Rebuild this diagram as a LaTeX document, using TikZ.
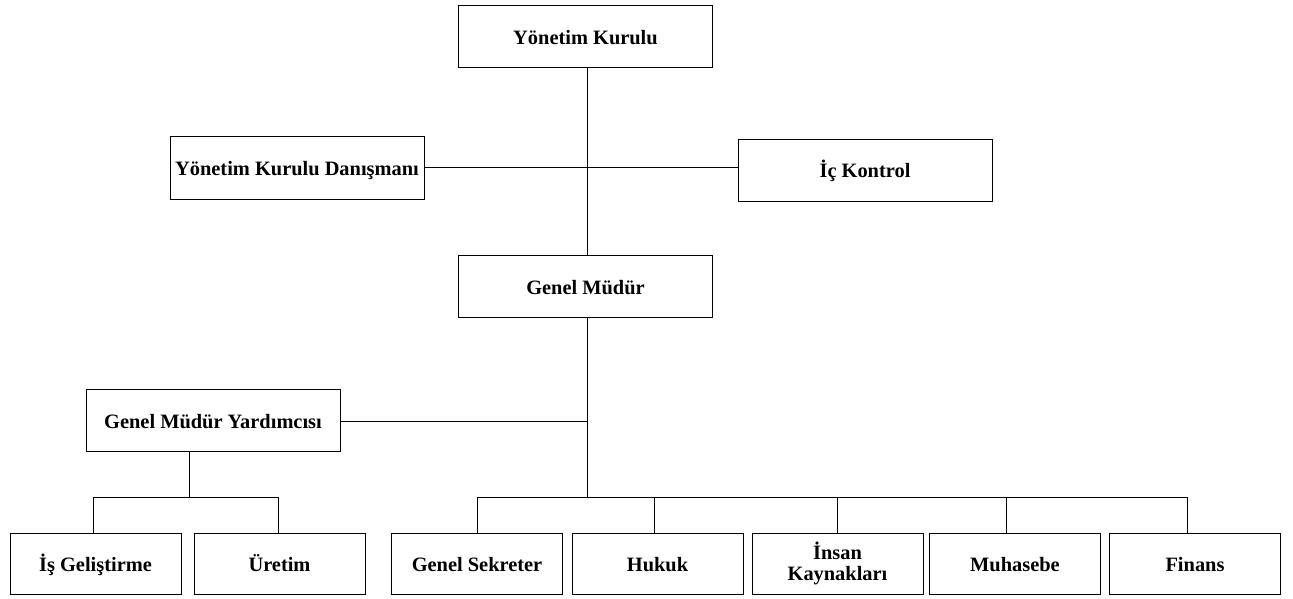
\documentclass[tikz,border=0pt]{standalone}
\usepackage{fontspec}
\setmainfont{Liberation Serif}
\usetikzlibrary{calc}
\begin{document}
\begin{tikzpicture}[x=1pt,y=-1pt,
  box/.style={draw=black,line width=1pt,inner sep=0pt,
    font=\fontsize{20.4}{22}\selectfont\bfseries,text height=16pt,text depth=1pt},
  wide/.style={box,minimum width=254pt,minimum height=62pt},
  small/.style={box,minimum width=171pt,minimum height=61pt},
  twoline/.style={small,align=center,text height=,text depth=},
  link/.style={draw=black,line width=0.9pt}]
\useasboundingbox[fill=white] (0,0) rectangle (1293,599);
% top
\node[wide] (yk)  at (585.5,37)   {Yönetim Kurulu};
\node[wide] (dan) at (297,168)    {Yönetim Kurulu Danışmanı};
\node[wide] (ick) at (865,170.5)  {İç Kontrol};
\node[wide] (gm)  at (585.5,286.5){Genel Müdür};
\node[wide] (gmy) at (213,420.5)  {Genel Müdür Yardımcısı};
% bottom row
\node[small] (is) at (95.5,563.5)  {İş Geliştirme};
\node[small] (ur) at (279.5,563.5) {Üretim};
\node[small] (gs) at (477,563.5)   {Genel Sekreter};
\node[small] (hk) at (657.5,563.5) {Hukuk};
\node[twoline] (ik) at (837.5,563.5) {İnsan\\[-1pt]Kaynakları};
\node[small] (mu) at (1015,563.5)  {Muhasebe};
\node[small] (fi) at (1195,563.5)  {Finans};
% coordinates
\coordinate (cx) at (587,167);
\coordinate (gmyj) at (587,421);
\coordinate (busR) at (587,497);
\coordinate (gmyd) at (189,497);
\coordinate (l1) at (93,497);
\coordinate (l2) at (278,497);
\coordinate (r1) at (477,497);
\coordinate (r2) at (654,497);
\coordinate (r3) at (837.5,497);
\coordinate (r4) at (1006,497);
\coordinate (r5) at (1187,497);
% connectors
\draw[link] (yk.south -| cx) -- (gm.north -| cx);
\draw[link] (dan.east |- cx) -- (ick.west |- cx);
\draw[link] (gm.south -| cx) -- (busR);
\draw[link] (gmy.east |- gmyj) -- (gmyj);
\draw[link] (gmy.south -| gmyd) -- (gmyd);
\draw[link] (l1 |- is.north) -- (l1) -- (l2) -- (l2 |- ur.north);
\draw[link] (r1 |- gs.north) -- (r1) -- (r5) -- (r5 |- fi.north);
\draw[link] (r2) -- (r2 |- hk.north);
\draw[link] (r3) -- (r3 |- ik.north);
\draw[link] (r4) -- (r4 |- mu.north);
\end{tikzpicture}
\end{document}
